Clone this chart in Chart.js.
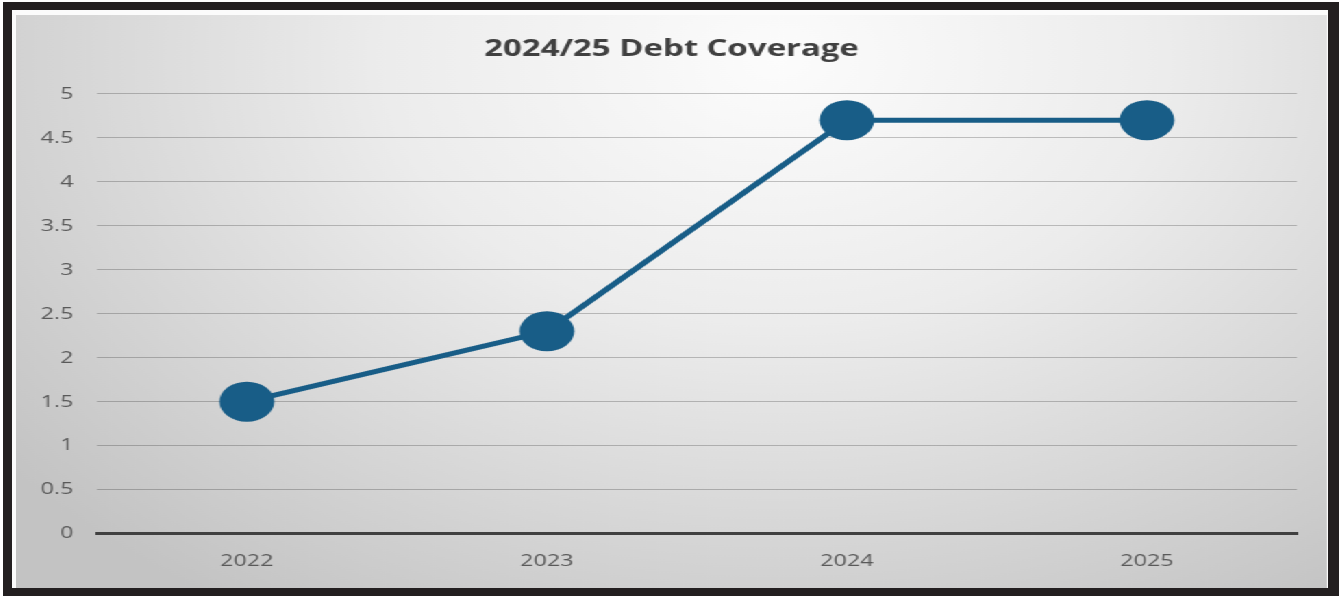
<!DOCTYPE html>
<html>
<head>
<meta charset="utf-8">
<script src="https://cdn.jsdelivr.net/npm/chart.js@4"></script>
<style>
  body { margin: 0; background: #fff; }
  .frame { position: absolute; left: 3px; top: 2px; width: 1336px; height: 594px; background: #231f20; }
  .inner { position: absolute; left: 12px; top: 10px; width: 1316px; height: 578px; background: #fbfbfb; }
  .panel {
    position: absolute; left: 16px; top: 15px; width: 957px; height: 573px;
    transform: scaleX(1.37); transform-origin: 0 0;
    background: radial-gradient(ellipse 75% 115% at 58% 8%, #fcfcfc 0%, #ececec 40%, #d4d4d4 75%, #c3c3c3 100%);
  }
</style>
</head>
<body>
<div class="frame"></div>
<div class="inner"></div>
<div class="panel"><canvas id="coverageChart"></canvas></div>
<script>
const years = ["2022", "2023", "2024", "2025"];
const coverage = [1.5, 2.3, 4.7, 4.7];
const chartTitle = "2024/25 Debt Coverage";

const lineColor = "#185d87";
const ctx = document.getElementById("coverageChart").getContext("2d");

new Chart(ctx, {
  type: "line",
  data: {
    labels: years,
    datasets: [{
      label: "Debt Coverage",
      data: coverage,
      yAxisID: "y",
      borderColor: lineColor,
      backgroundColor: lineColor,
      borderWidth: 5,
      pointRadius: 20,
      pointHoverRadius: 20,
      pointBorderWidth: 0,
      tension: 0
    }]
  },
  options: {
    responsive: true,
    maintainAspectRatio: false,
    animation: false,
    events: [],
    layout: { padding: 0 },
    plugins: {
      legend: { display: false },
      tooltip: { enabled: false },
      title: {
        display: true,
        text: chartTitle,
        color: "#404040",
        font: { family: "'Open Sans'", size: 24, weight: "bold" },
        padding: { top: 20, bottom: 30 }
      }
    },
    scales: {
      x: {
        offset: true,
        grid: { display: false, drawTicks: false },
        border: { color: "#404040", width: 3 },
        ticks: { color: "#595959", padding: 17, font: { family: "'Open Sans'", size: 17 } }
      },
      y: {
        min: 0,
        max: 5,
        afterFit: scale => { scale.width = 59; },
        grid: { color: "rgba(0,0,0,0.22)", lineWidth: 1, drawTicks: false },
        border: { display: false },
        ticks: {
          stepSize: 0.5,
          color: "#595959",
          padding: 17,
          font: { family: "'Open Sans'", size: 17 },
          callback: value => String(value)
        }
      },
      // empty right-hand gutter so the plot stops short of the panel edge
      gutter: {
        type: "linear",
        position: "right",
        afterFit: scale => { scale.width = 22; },
        grid: { display: false, drawTicks: false },
        border: { display: false },
        ticks: { display: false }
      }
    }
  }
});
</script>
</body>
</html>
